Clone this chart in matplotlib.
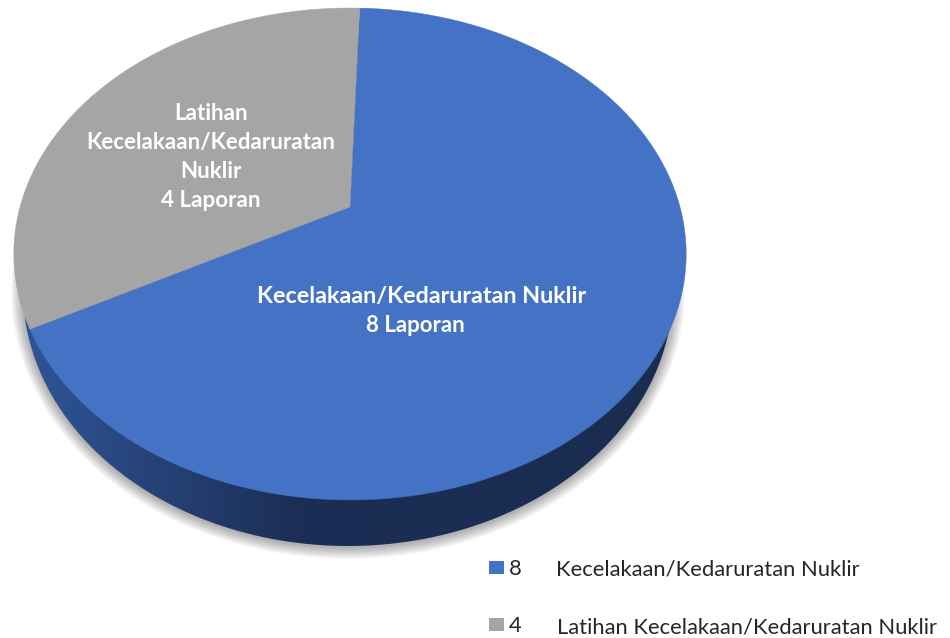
import numpy as np
import matplotlib
matplotlib.use("Agg")
import matplotlib.pyplot as plt
from matplotlib.colors import LinearSegmentedColormap
from matplotlib.patches import Polygon

values = [8, 4]
colors = ["#4472C4", "#A5A5A5"]
legend_names = ["Kecelakaan/Kedaruratan Nuklir", "Latihan Kecelakaan/Kedaruratan Nuklir"]
big_label = ["Kecelakaan/Kedaruratan Nuklir", "8 Laporan"]
small_label = "Latihan\nKecelakaan/Kedaruratan\nNuklir\n4 Laporan"

START_ANGLE = 88     # where the first slice starts, going clockwise
APEX = (350, 207)    # pie centre as seen in the tilted view, pixels
K = 0.191            # perspective strength
A = 330
B = 237

plt.rcParams['font.family'] = ['Lato', 'DejaVu Sans']

fig = plt.figure(figsize=(9.5, 6.38), dpi=100)
ax = fig.add_axes([0, 0, 1, 1])


def tilt(theta_deg):
    # maps angle on the flat pie to pixel position on the tilted one
    t = np.radians(theta_deg)
    w = 1 + K * np.sin(t)
    return APEX[0] + A * np.cos(t) / w, APEX[1] - B * np.sin(t) / w


# rim outline, lies below the top face
t = np.linspace(0, 2 * np.pi, 720)
rim_x = 348 + 325 * np.cos(t)
rim_y = 290 + 256 * np.sin(t)

# soft shadow around the rim
for grow in range(12, 0, -1):
    sx = 348 + (325 + grow) * np.cos(t)
    sy = 291 + (256 + grow) * np.sin(t)
    ax.fill(sx, sy, color="black", alpha=0.028, lw=0, zorder=1)

# rim, lighter on the left and going dark to the right
rim_cmap = LinearSegmentedColormap.from_list(
    "rim", [(0, "#2F5597"), (0.42, "#1C2E55"), (1, "#1A2C4F")])
img = ax.imshow(np.linspace(0, 1, 256).reshape(1, -1), cmap=rim_cmap, aspect="auto",
                extent=(25, 675, 560, 20), zorder=2)
rim_patch = Polygon(np.column_stack([rim_x, rim_y]), closed=True, transform=ax.transData)
img.set_clip_path(rim_patch)

# top face, slices from the values
angle = START_ANGLE
for value, color in zip(values, colors):
    sweep = 360 * value / sum(values)
    theta = np.linspace(angle, angle - sweep, 400)
    x, y = tilt(theta)
    ax.fill(np.r_[APEX[0], x], np.r_[APEX[1], y], color=color, lw=0.3, zorder=3)
    angle -= sweep

ax.text(421.5, 296, big_label[0], color="white", fontsize=16.8, fontweight="bold",
        ha="center", va="center", zorder=4)
ax.text(415, 326, big_label[1], color="white", fontsize=16, fontweight="bold",
        ha="center", va="center", zorder=4)
ax.text(211, 157, small_label, color="white", fontsize=16.1, fontweight="bold",
        ha="center", va="center", linespacing=1.46, zorder=4)

# legend
legend_y = [575, 632]
name_x = [556, 557]
for value, color, name, ly, nx in zip(values, colors, legend_names, legend_y, name_x):
    ax.fill([489, 504, 504, 489], [ly - 14, ly - 14, ly - 1, ly - 1], color=color, lw=0, zorder=4)
    ax.text(509, ly, str(value), color="#262626", fontsize=15.8, ha="left", va="baseline")
    ax.text(nx, ly + 1 if nx == 557 else ly, name, color="#262626", fontsize=15.8, ha="left", va="baseline")

ax.set_xlim(0, 950)
ax.set_ylim(638, 0)
ax.axis("off")
fig.savefig("out.png", dpi=100)
